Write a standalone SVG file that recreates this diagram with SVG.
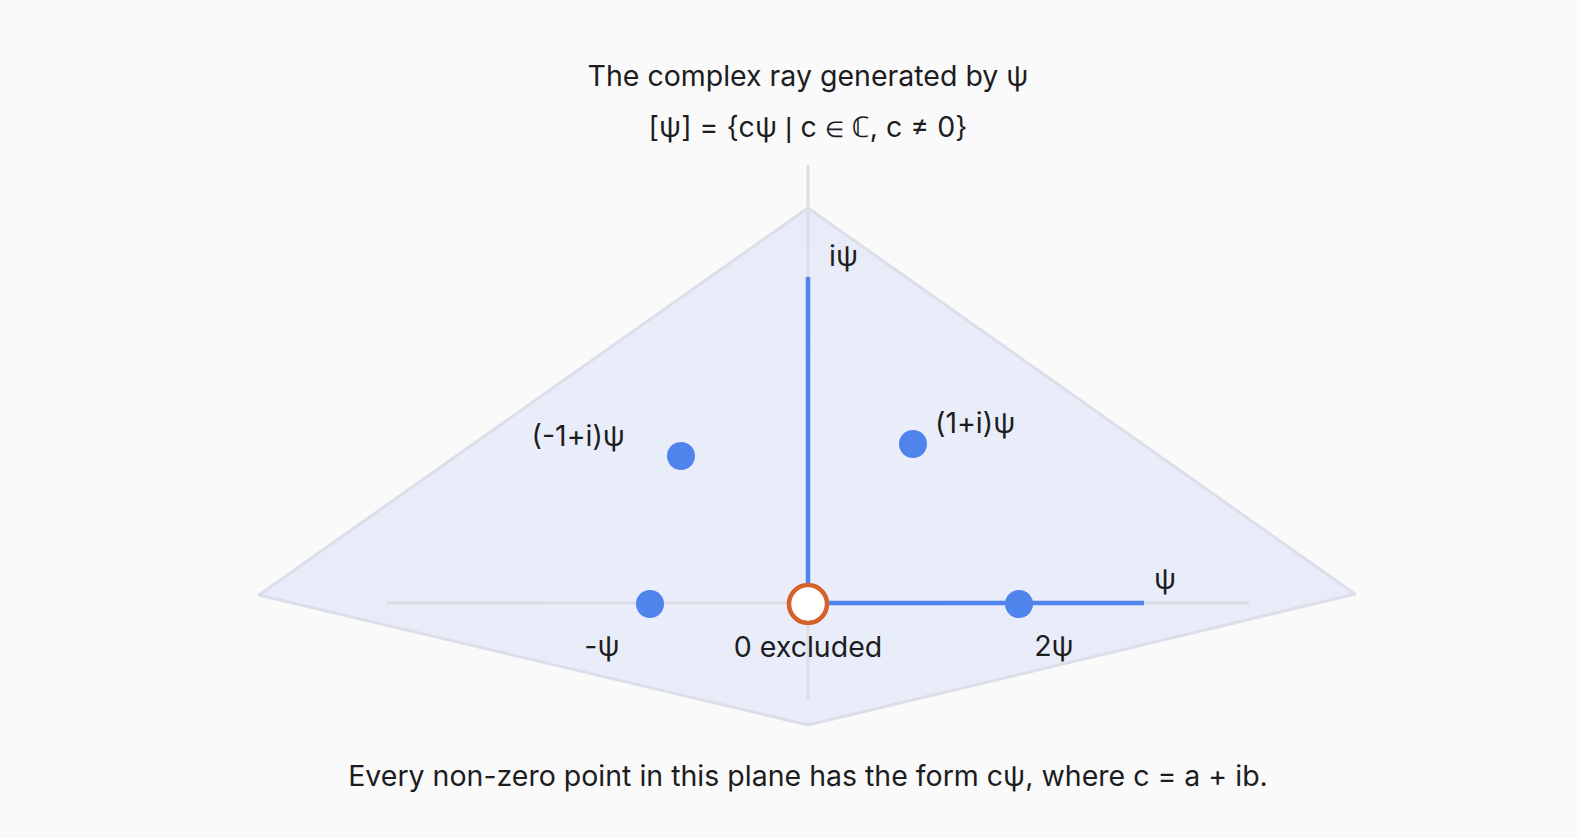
<svg xmlns="http://www.w3.org/2000/svg" width="1580" height="838" viewBox="0 0 1580 838">
<style>
text{font-family:Inter,"Noto Sans","Liberation Sans",sans-serif;fill:#1d1d1f}
.t{font-size:28.5px;text-anchor:middle}
.l{font-size:28.5px}
.alt{font-family:"Noto Sans",sans-serif}
.bar{font-family:"Liberation Sans",sans-serif}
.axis{stroke:#dcdee6;stroke-width:3;fill:none}
.ray{stroke:#4f84ec;stroke-width:4.5;fill:none}
.dot{fill:#4f84ec}
</style>
<defs>
<radialGradient id="g" cx="0.5" cy="0.55" r="0.5">
<stop offset="0" stop-color="#eaeefa"/>
<stop offset="1" stop-color="#e8ecf8"/>
</radialGradient>
</defs>
<rect width="1580" height="838" fill="#fafafa"/>
<g id="plane">
<polygon points="808,208 1355,594 808,725 259,595" fill="url(#g)" stroke="#dcdfe9" stroke-width="3" stroke-linejoin="round"/>
</g>
<g id="connectors">
<line class="axis" x1="808" y1="165" x2="808" y2="699"/>
<line class="axis" x1="387" y1="603" x2="1249" y2="603"/>
<line class="ray" x1="808" y1="277" x2="808" y2="603"/>
<line class="ray" x1="808" y1="603" x2="1144" y2="603"/>
</g>
<g id="title">
<text class="t" x="808" y="86">The complex ray generated by ψ</text>
<text class="t" x="808" y="137">[ψ] = {cψ <tspan class="bar" font-size="28.5">|</tspan> c <tspan class="alt" font-size="22">∈</tspan> ℂ, c ≠ 0}</text>
</g>
<g id="node-ipsi"><text class="l" x="829" y="266">iψ</text></g>
<g id="node-1pi"><circle class="dot" cx="913" cy="444" r="14"/><text class="l" x="935" y="433">(1+i)ψ</text></g>
<g id="node-m1pi"><circle class="dot" cx="681" cy="456" r="14"/><text class="l" x="625" y="446" text-anchor="end">(-1+i)ψ</text></g>
<g id="node-psi"><text class="l" x="1165" y="589" text-anchor="middle">ψ</text></g>
<g id="node-mpsi"><circle class="dot" cx="650" cy="604" r="14"/><text class="l" x="602" y="656" text-anchor="middle">-ψ</text></g>
<g id="node-2psi"><circle class="dot" cx="1019" cy="604" r="14"/><text class="l" x="1054" y="656" text-anchor="middle">2ψ</text></g>
<g id="node-zero"><circle cx="808" cy="604" r="19" fill="#ffffff" stroke="#d4622a" stroke-width="4.5"/><text class="l" x="808" y="657" text-anchor="middle">0 excluded</text></g>
<g id="caption"><text class="t" x="808" y="786">Every non-zero point in this plane has the form cψ, where c = a + ib.</text></g>
</svg>
